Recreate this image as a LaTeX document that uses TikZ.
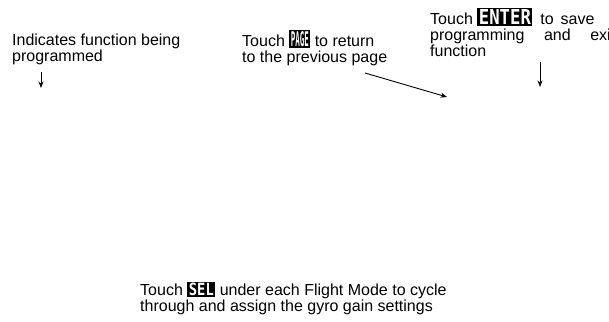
\documentclass[tikz,border=0pt]{standalone}
\usepackage{graphicx}
\usepackage{fontspec}
\setmainfont{Liberation Sans}
\newfontfamily\keyfont{DejaVu Sans Mono}
\usetikzlibrary{arrows.meta}

% black key badge: width, height, label
\newcommand{\keycap}[3]{{\setlength{\fboxsep}{1.5pt}\colorbox{black}{\resizebox{#1}{#2}{\textcolor{white}{\keyfont\bfseries #3}}}}}

\begin{document}
\begin{tikzpicture}[x=1pt,y=-1pt,>={Stealth[length=6.5pt,width=5pt]},
    note/.style={anchor=base west,inner sep=0pt,align=left,font=\fontsize{16}{16}\selectfont},
    pointer/.style={->,line width=0.9pt}]
    \useasboundingbox (0,0) rectangle (609,321);

    % Captions
    \node[note] (function) at (12,61.5) {Indicates function being\\programmed};
    \node[note] (pagekey) at (242,62.5) {Touch \keycap{18pt}{15pt}{PAGE} to return\\to the previous page};
    \node[note,text width=185pt,align=justify] (enterkey) at (430,25)
        {Touch\hspace{4.5pt}\keycap{52pt}{15pt}{ENTER}\hspace{8pt}to\hspace{7pt}save\hfil\linebreak programming and exit\linebreak function};
    \node[note,font=\fontsize{16}{14}\selectfont] (selkey) at (140,311.5)
        {Touch \keycap{25pt}{12.5pt}{SEL} under each Flight Mode to cycle\\through and assign the gyro gain settings};

    % Pointers
    \coordinate (funcfrom) at (41,72);
    \coordinate (functo) at (41,88);
    \coordinate (pagefrom) at (365,73);
    \coordinate (pageto) at (447,97);
    \coordinate (enterfrom) at (540,62);
    \coordinate (enterto) at (540,87);
    \draw[pointer] (funcfrom) -- (functo);
    \draw[pointer] (pagefrom) -- (pageto);
    \draw[pointer] (enterfrom) -- (enterto);
\end{tikzpicture}
\end{document}
